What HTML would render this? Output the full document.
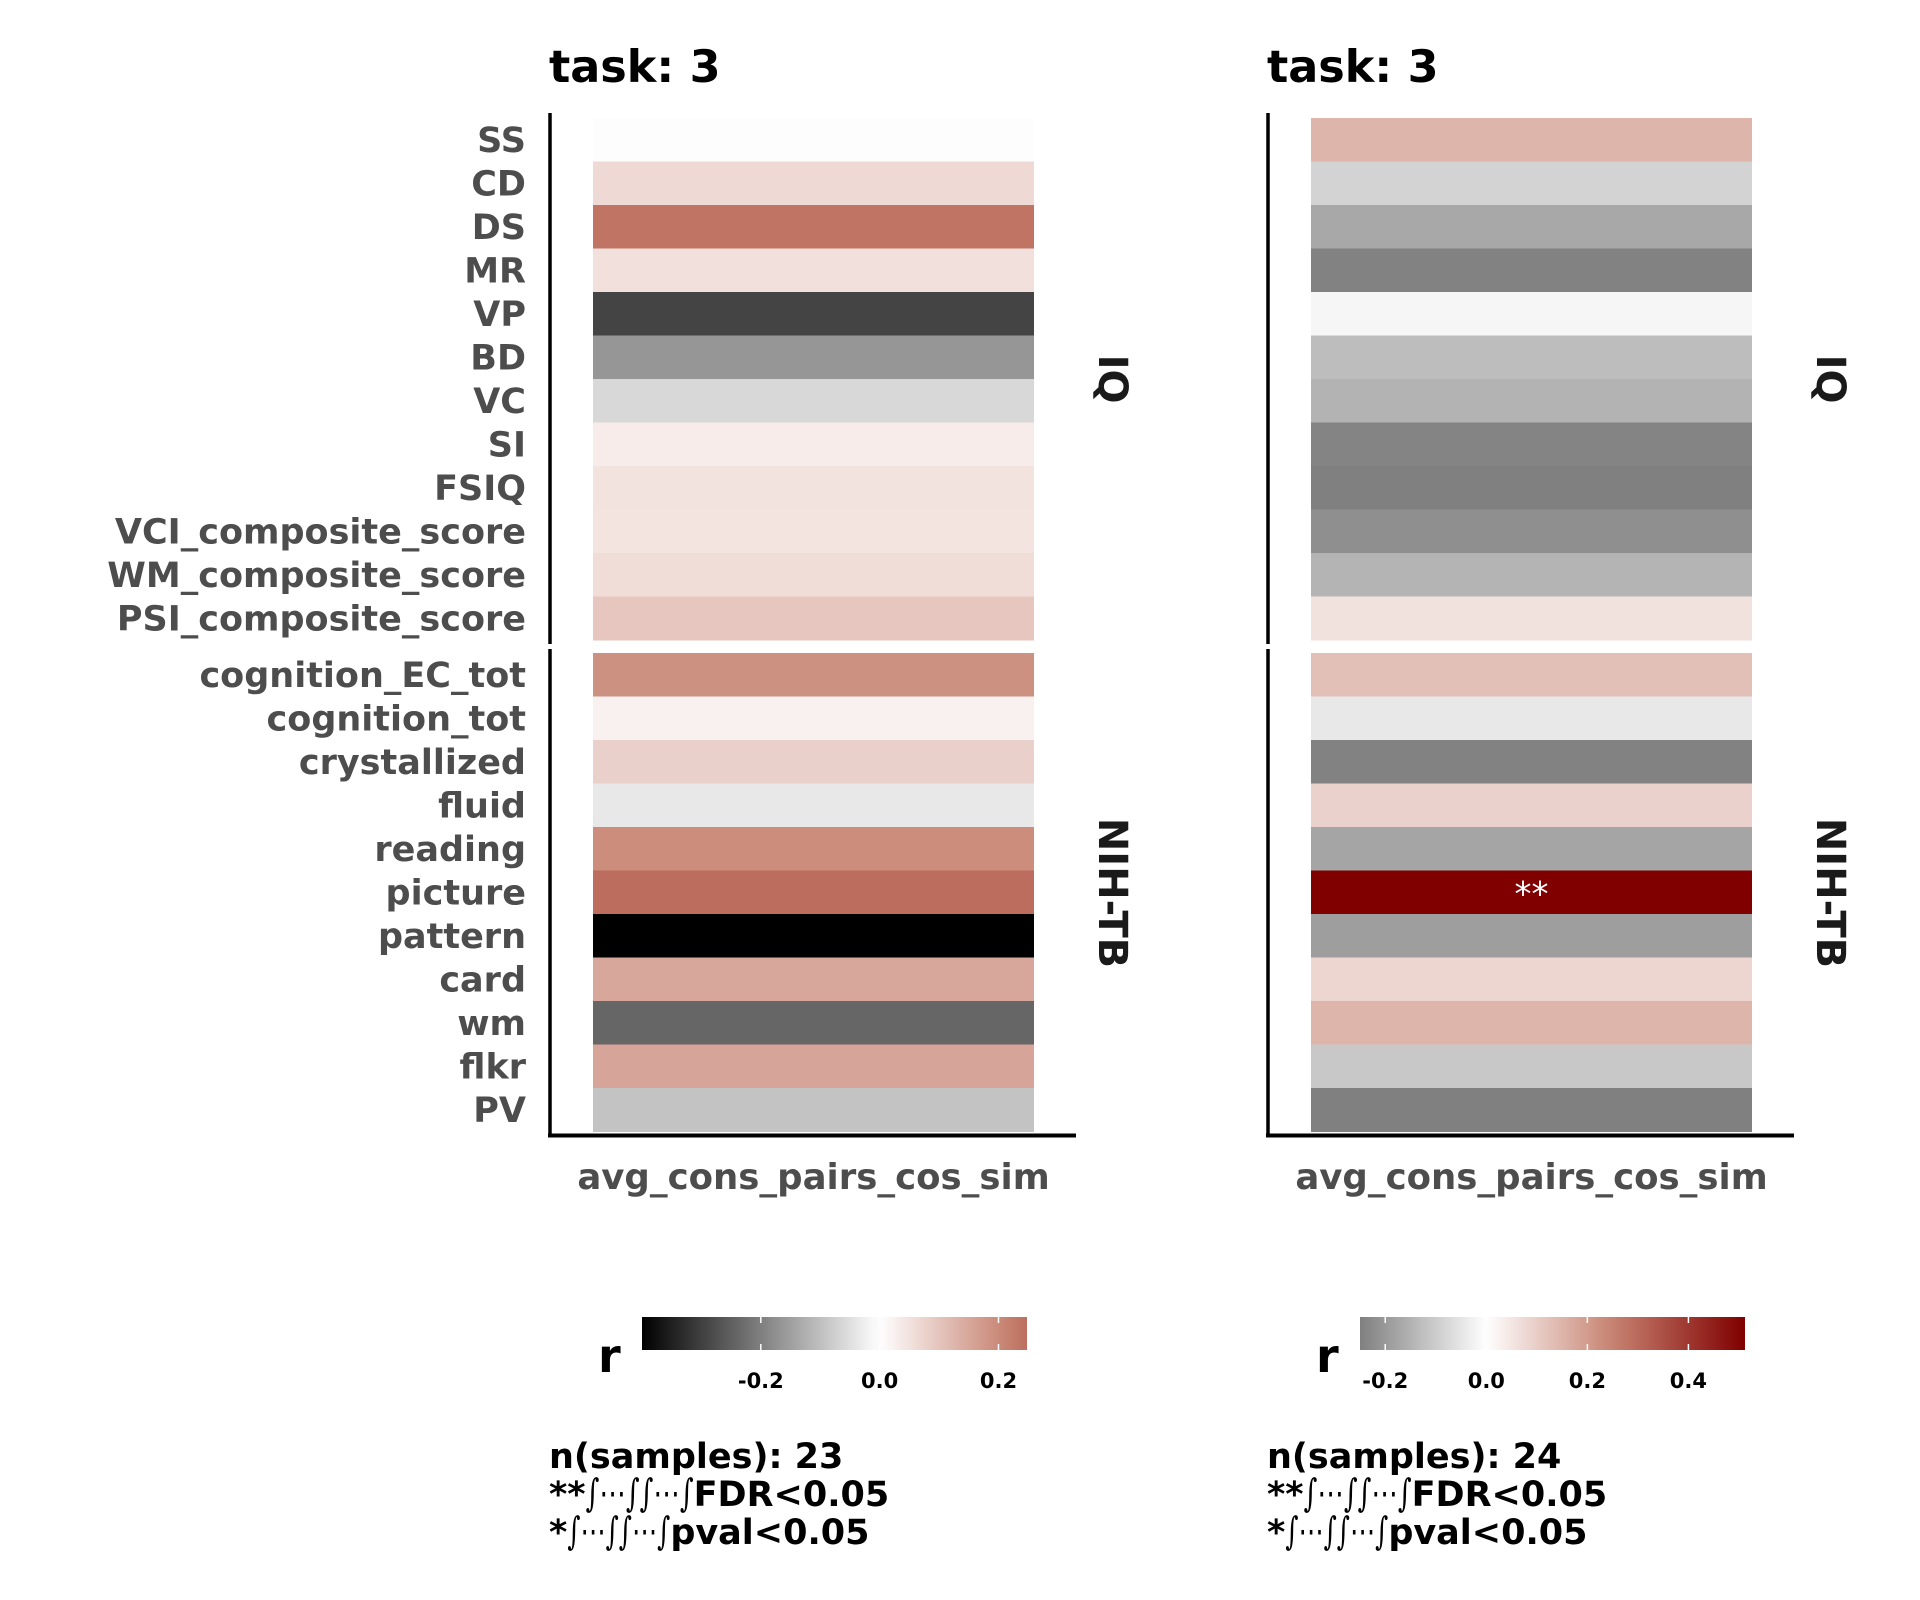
<!DOCTYPE html>
<html><head><meta charset="utf-8"><style>
html,body{margin:0;padding:0;background:#fff;}
svg{display:block;font-family:"DejaVu Sans","Liberation Sans",sans-serif;}
</style></head><body>
<svg id="chart" width="1920" height="1600" viewBox="0 0 1920 1600" xmlns="http://www.w3.org/2000/svg"></svg>
<script>
const iqLabels = ["SS","CD","DS","MR","VP","BD","VC","SI","FSIQ","VCI_composite_score","WM_composite_score","PSI_composite_score"];
const nihLabels = ["cognition_EC_tot","cognition_tot","crystallized","fluid","reading","picture","pattern","card","wm","flkr","PV"];
const leftIQ = [-0.003,0.065,0.237,0.053,-0.293,-0.165,-0.061,0.032,0.048,0.047,0.058,0.097];
const leftNIH = [0.189,0.024,0.08,-0.036,0.196,0.25,-0.4,0.15,-0.24,0.155,-0.094];
const rightIQ = [0.149,-0.086,-0.17,-0.245,-0.018,-0.13,-0.149,-0.241,-0.249,-0.22,-0.147,0.058];
const rightNIH = [0.126,-0.045,-0.245,0.092,-0.176,0.51,-0.19,0.082,0.148,-0.108,-0.25];
const rightNIHSig = ["","","","","","**","","","","",""];
const leftTicks = [-0.2,0.0,0.2];
const rightTicks = [-0.2,0.0,0.2,0.4];
const leftTickLabels = ["-0.2","0.0","0.2"];
const rightTickLabels = ["-0.2","0.0","0.2","0.4"];
const leftRange = [-0.4,0.248];
const rightRange = [-0.25,0.512];
const leftN = 23, rightN = 24;

const NS="http://www.w3.org/2000/svg";
const svg=document.getElementById('chart');
function mk(tag,attrs,parent){const e=document.createElementNS(NS,tag);for(const k in attrs)e.setAttribute(k,attrs[k]);(parent||svg).appendChild(e);return e;}
function lerp(a,b,t){return a.map((x,i)=>Math.round(x+(b[i]-x)*t));}
function color(v,negLim,posLim){
  if(v<0){const t=Math.min(1,v/negLim);const g=Math.round(255*(1-t));return `rgb(${g},${g},${g})`;}
  const f=Math.min(1,v/posLim);
  const c=f<0.5?lerp([255,255,255],[198,128,110],f/0.5):lerp([198,128,110],[128,0,0],(f-0.5)/0.5);
  return `rgb(${c[0]},${c[1]},${c[2]})`;
}
const rowH=43.5, iqTop=118, nihTop=653;
function yRow(top,i){return top+i*rowH;}

function panel(ox,iq,nih,sig,negLim,posLim,range,ticks,tickLabels,n,showLabels,pid){
  const g=mk('g',{});
  
  
  const t=mk('text',{x:ox+549,y:82,'font-size':44.5,'font-weight':'bold',fill:'#000'},g);t.textContent='task: 3';
  
  
  const x0=ox+593,w=441;
  iq.forEach((v,i)=>{const r=mk('rect',{x:x0,y:yRow(iqTop,i),width:w,height:rowH+0.5,fill:color(v,negLim,posLim)},g);
    
    });
  nih.forEach((v,i)=>{const r=mk('rect',{x:x0,y:yRow(nihTop,i),width:w,height:rowH+0.5,fill:color(v,negLim,posLim)},g);
    
    
    if(sig&&sig[i]){const s=mk('text',{x:x0+w/2,y:yRow(nihTop,i)+rowH/2+13,'text-anchor':'middle','font-size':34,fill:'#fff'},g);s.textContent=sig[i];
      
      }});
  if(showLabels){
    iqLabels.forEach((l,i)=>{const tx=mk('text',{x:526,y:yRow(iqTop,i)+rowH/2+12,'text-anchor':'end','font-size':35,'font-weight':'bold',fill:'#4d4d4d'},g);tx.textContent=l;
      
      });
    nihLabels.forEach((l,i)=>{const tx=mk('text',{x:526,y:yRow(nihTop,i)+rowH/2+12,'text-anchor':'end','font-size':35,'font-weight':'bold',fill:'#4d4d4d'},g);tx.textContent=l;
      
      });
  }
  const ax=ox+550;
  mk('line',{x1:ax,y1:113,x2:ax,y2:644,stroke:'#000','stroke-width':3.5},g);
  mk('line',{x1:ax,y1:649,x2:ax,y2:1137,stroke:'#000','stroke-width':3.5},g);
  mk('line',{x1:ax-2,y1:1135.5,x2:ox+1076,y2:1135.5,stroke:'#000','stroke-width':4},g);
  const xl=mk('text',{x:x0+w/2,y:1189,'text-anchor':'middle','font-size':35.5,'font-weight':'bold',fill:'#4d4d4d'},g);xl.textContent='avg_cons_pairs_cos_sim';
  
  
  [['IQ',379],['NIH-TB',893]].forEach(([s,cy])=>{const st=mk('text',{x:0,y:0,transform:`translate(${ox+1099},${cy}) rotate(90)`,'text-anchor':'middle','font-size':40,'font-weight':'bold',fill:'#1a1a1a'},g);st.textContent=s;
    
    });
  const cbL=ox+642, cbW=385, cbT=1317, cbH=33;
  const sx=v=>cbL+(v-range[0])/(range[1]-range[0])*cbW;
  const gid='grad-'+pid;
  const defs=mk('defs',{},g);const lg=mk('linearGradient',{id:gid,x1:0,x2:1,y1:0,y2:0},defs);
  for(let k=0;k<=40;k++){const v=range[0]+(range[1]-range[0])*k/40;mk('stop',{offset:k/40,'stop-color':color(v,negLim,posLim)},lg);}
  const cb=mk('rect',{x:cbL,y:cbT,width:cbW,height:cbH,fill:`url(#${gid})`},g);
  
  
  ticks.forEach((v,i)=>{const x=sx(v);
    mk('line',{x1:x,y1:cbT,x2:x,y2:cbT+6,stroke:'#fff','stroke-width':1.5},g);
    mk('line',{x1:x,y1:cbT+cbH-6,x2:x,y2:cbT+cbH,stroke:'#fff','stroke-width':1.5},g);
    const tl=mk('text',{x:x,y:1388,'text-anchor':'middle','font-size':21,'font-weight':'bold',fill:'#000'},g);tl.textContent=tickLabels[i];
    
    });
  const r=mk('text',{x:ox+598,y:1372,'font-size':46,'font-weight':'bold',fill:'#000'},g);r.textContent='r';
  
  
  const cap=[[`n(samples): ${n}`,'','',0],['**','∫⋯∫∫⋯∫','FDR<0.05',108],['*','∫⋯∫∫⋯∫','pval<0.05',103]];
  cap.forEach((parts,i)=>{const tt=mk('text',{x:ox+549,y:1468+i*38,'font-size':35,'font-weight':'bold',fill:'#000'},g);
    
    
    const a=mk('tspan',{},tt);a.textContent=parts[0];
    if(parts[1]){const b=mk('tspan',{'font-weight':'normal','font-family':'"DejaVu Serif",serif','font-size':38,textLength:parts[3],lengthAdjust:'spacingAndGlyphs'},tt);b.textContent=parts[1];
      const c=mk('tspan',{},tt);c.textContent=parts[2];}
  });
}
panel(0,leftIQ,leftNIH,null,-0.4,0.435,leftRange,leftTicks,leftTickLabels,leftN,true,'left');
panel(718,rightIQ,rightNIH,rightNIHSig,-0.5,0.51,rightRange,rightTicks,rightTickLabels,rightN,false,'right');
</script>
</body></html>
